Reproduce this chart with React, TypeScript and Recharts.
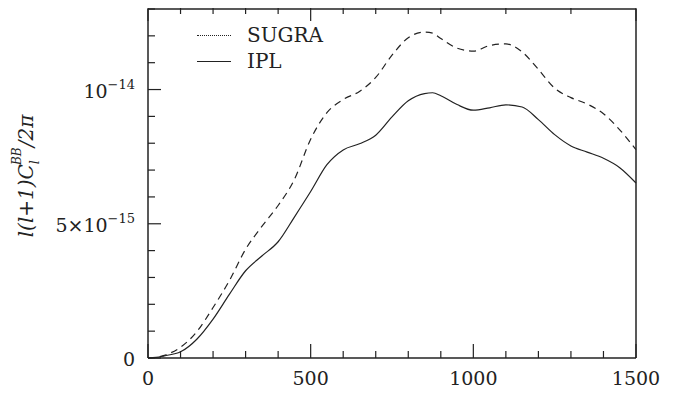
import React from 'react';
import { LineChart, Line, XAxis, YAxis } from 'recharts';

// multipole l
const ells = [0, 25, 50, 100, 150, 200, 250, 300, 350, 400, 450, 500, 550, 600, 650, 700, 750, 800, 850, 875, 900, 950, 1000, 1050, 1100, 1150, 1200, 1250, 1300, 1350, 1400, 1450, 1500];
// l(l+1)C_l^BB/2pi in units of 1e-15
const sugra = [0, 0.02, 0.1, 0.4, 0.98, 1.88, 2.88, 4.05, 4.9, 5.68, 6.65, 8.15, 9.14, 9.63, 9.93, 10.45, 11.28, 11.93, 12.14, 12.1, 11.9, 11.54, 11.43, 11.64, 11.7, 11.4, 10.75, 10.05, 9.7, 9.46, 9.1, 8.5, 7.76];
const ipl = [0, 0.02, 0.08, 0.23, 0.7, 1.45, 2.37, 3.25, 3.8, 4.33, 5.25, 6.2, 7.2, 7.75, 7.98, 8.3, 8.98, 9.58, 9.85, 9.88, 9.77, 9.44, 9.23, 9.32, 9.43, 9.35, 8.88, 8.32, 7.9, 7.67, 7.44, 7.09, 6.52];

const xTicks = [0, 100, 200, 300, 400, 500, 600, 700, 800, 900, 1000, 1100, 1200, 1300, 1400, 1500];
const xMajor = [0, 500, 1000, 1500];
const yTicks = [0, 1, 2, 3, 4, 5, 6, 7, 8, 9, 10, 11, 12, 13];
const yMajor = [0, 5, 10];

const data = ells.map((l, i) => ({ l, sugra: sugra[i], ipl: ipl[i] }));

const FONT = '"DejaVu Serif", serif';
const INK = '#222';

const BottomTick = (props: any) => {
  const { x, y, payload } = props;
  const major = xMajor.includes(payload.value);
  return (
    <g>
      <path d={`M${x},${y}V${y - (major ? 14 : 7)}`} stroke={INK} strokeWidth={1.2} fill="none" />
      {major && (
        <text x={x} y={y + 27} textAnchor="middle" fontFamily={FONT} fontSize={19} fill={INK}>
          {payload.value}
        </text>
      )}
    </g>
  );
};

const TopTick = (props: any) => {
  const { x, y, payload } = props;
  const major = xMajor.includes(payload.value);
  return <path d={`M${x},${y}V${y + (major ? 14 : 7)}`} stroke={INK} strokeWidth={1.2} fill="none" />;
};

const LeftTick = (props: any) => {
  const { x, y, payload } = props;
  const v = payload.value;
  const major = yMajor.includes(v);
  let main = '';
  let sup = '';
  if (v === 0) main = '0';
  if (v === 5) {
    main = '5×10';
    sup = '−15';
  }
  if (v === 10) {
    main = '10';
    sup = '−14';
  }
  return (
    <g>
      <path d={`M${x},${y}H${x + (major ? 13 : 7)}`} stroke={INK} strokeWidth={1.2} fill="none" />
      {main && (
        <text x={x - 13} y={y + 8} textAnchor="end" fontFamily={FONT} fontSize={19} fill={INK}>
          {main}
          {sup && (
            <tspan dy={-9} fontSize={13}>
              {sup}
            </tspan>
          )}
        </text>
      )}
    </g>
  );
};

const RightTick = (props: any) => {
  const { x, y, payload } = props;
  const major = yMajor.includes(payload.value);
  return <path d={`M${x},${y}H${x - (major ? 13 : 7)}`} stroke={INK} strokeWidth={1.2} fill="none" />;
};

const YLabel = (props: any) => {
  const { viewBox } = props;
  const cx = viewBox.x + 25;
  const cy = viewBox.y + 167;
  return (
    <text
      x={cx}
      y={cy}
      transform={`rotate(-90, ${cx}, ${cy})`}
      textAnchor="middle"
      fontFamily={FONT}
      fontStyle="italic"
      fontSize={20}
      fill={INK}
    >
      l(l+1)C
      <tspan dy={6} fontSize={13}>l</tspan>
      <tspan dx={-5} dy={-18} fontSize={12}>BB</tspan>
      <tspan dy={12}>/2π</tspan>
    </text>
  );
};

const LegendRow = ({ border, text }: { border: string; text: string }) => (
  <div style={{ display: 'flex', alignItems: 'center', height: 26 }}>
    <div style={{ width: 34, marginRight: 16, borderTop: border }} />
    <span>{text}</span>
  </div>
);

export default function App() {
  return (
    <div style={{ position: 'relative', width: 667, height: 396, marginTop: -9 }}>
      <LineChart width={667} height={396} data={data} margin={{ top: 0, right: 29, bottom: 0, left: 0 }}>
        <XAxis
          dataKey="l"
          type="number"
          domain={[0, 1500]}
          ticks={xTicks}
          interval={0}
          height={37}
          tickSize={0}
          tickMargin={0}
          tickLine={false}
          stroke={INK}
          axisLine={{ stroke: INK, strokeWidth: 1.5 }}
          tick={<BottomTick />}
        />
        <XAxis
          xAxisId="top"
          orientation="top"
          dataKey="l"
          type="number"
          domain={[0, 1500]}
          ticks={xTicks}
          height={10}
          tickSize={0}
          tickLine={false}
          stroke={INK}
          axisLine={{ stroke: INK, strokeWidth: 1.5 }}
          tick={<TopTick />}
        />
        <YAxis
          type="number"
          domain={[0, 13]}
          ticks={yTicks}
          interval={0}
          width={140}
          tickSize={0}
          tickMargin={0}
          tickLine={false}
          stroke={INK}
          axisLine={{ stroke: INK, strokeWidth: 1.5 }}
          tick={<LeftTick />}
          label={<YLabel />}
        />
        <YAxis
          yAxisId="right"
          orientation="right"
          type="number"
          domain={[0, 13]}
          ticks={yTicks}
          width={10}
          tickSize={0}
          tickLine={false}
          stroke={INK}
          axisLine={{ stroke: INK, strokeWidth: 1.5 }}
          tick={<RightTick />}
        />
        <Line
          type="monotone"
          dataKey="sugra"
          stroke={INK}
          strokeWidth={1.2}
          strokeDasharray="7 5"
          dot={false}
          isAnimationActive={false}
        />
        <Line type="monotone" dataKey="ipl" stroke={INK} strokeWidth={1.2} dot={false} isAnimationActive={false} />
      </LineChart>
      <div style={{ position: 'absolute', top: 23, left: 189, fontFamily: FONT, fontSize: 20, color: INK }}>
        <LegendRow border={`1.5px dotted ${INK}`} text="SUGRA" />
        <LegendRow border={`1.2px solid ${INK}`} text="IPL" />
      </div>
    </div>
  );
}
